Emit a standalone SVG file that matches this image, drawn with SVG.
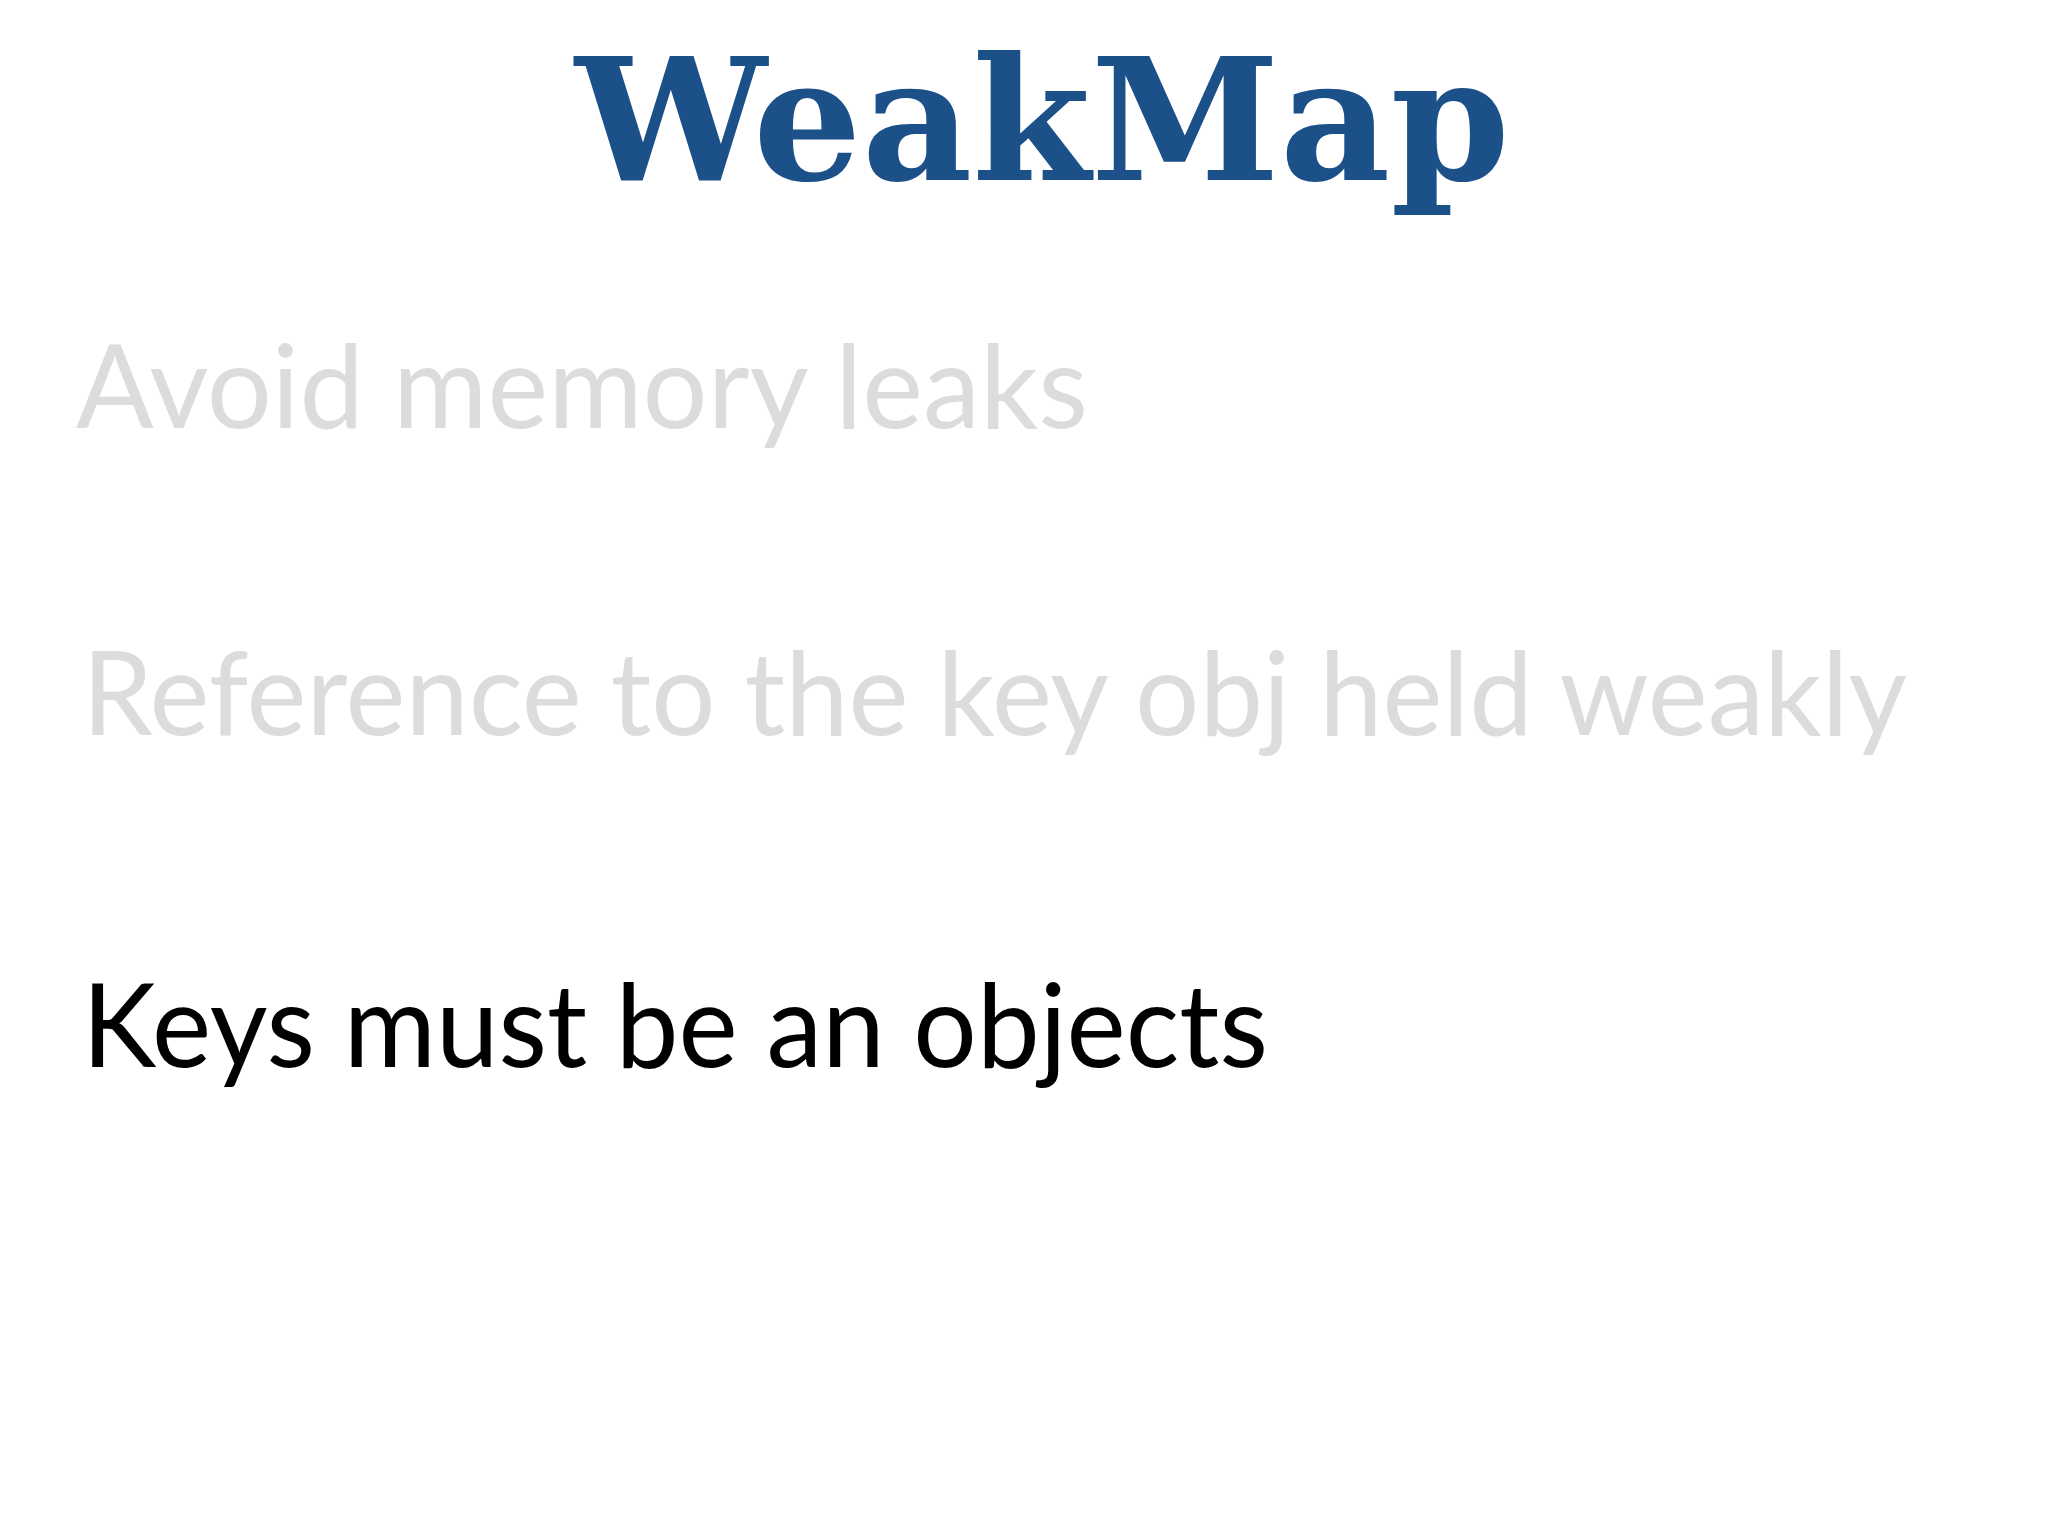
<svg xmlns="http://www.w3.org/2000/svg" width="2048" height="1536" viewBox="0 0 2048 1536">
<style>
.t{font-family:"DejaVu Serif","Liberation Serif",serif;font-weight:bold;fill:#1b5089}
.b{font-family:Lato,"Open Sans",sans-serif;font-size:116px}
.g{fill:#dcdcdd}
.k{fill:#000}
</style>
<rect width="2048" height="1536" fill="#fff"/>
<g id="title"><text class="t" x="575" y="180" font-size="170" textLength="935" lengthAdjust="spacingAndGlyphs">WeakMap</text></g>
<g id="line1"><text class="b g" x="76" y="428" textLength="1012" lengthAdjust="spacingAndGlyphs">Avoid memory leaks</text></g>
<g id="line2"><text class="b g" x="82" y="735" textLength="1825" lengthAdjust="spacingAndGlyphs">Reference to the key obj held weakly</text></g>
<g id="line3"><text class="b k" x="82" y="1067" textLength="1186" lengthAdjust="spacingAndGlyphs">Keys must be an objects</text></g>
</svg>
